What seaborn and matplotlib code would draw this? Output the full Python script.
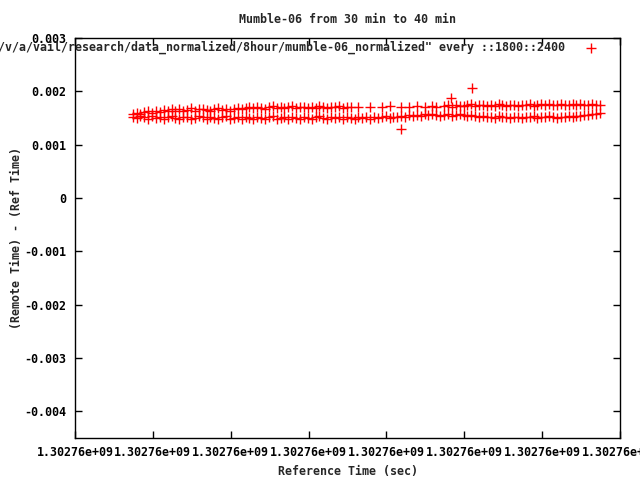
import numpy as np
import pandas as pd
import matplotlib
matplotlib.use("Agg")
import matplotlib.pyplot as plt
import seaborn as sns

nan = np.nan

# reference time of first tick (unix seconds) and sample timing
t_base = 1302760000
t_first = 74        # first sample, seconds after t_base
t_step = 5

# offset (remote - ref) in units of 10 microseconds, lower band
lower_10us = [
    152, 150, 154, 151, 149, 153, 150, 152, 148, 151,
    153, 150, 149, 152, 151, 148, 150, 153, 151, 149,
    152, 150, 148, 151, 153, 149, 150, 152, 148, 151,
    150, 149, 152, 150, 148, 151, 153, 149, 150, 152,
    149, 151, 150, 148, 152, 150, 149, 151, 153, 150,
    148, 151, 150, 152, 149, 151, 150, 148, 152, 150,
    151, 149, 152, 150, 151, 153, 150, 152, 151, 154,
    152, 155, 153, 156, 154, 157, 155, 158, 156, 154,
    155, 157, 154, 156, 158, 155, 153, 156, 154, 152,
    153, 151, 152, 150, 153, 151, 152, 150, 152, 151,
    150, 152, 151, 153, 150, 152, 151, 153, 152, 150,
    152, 151, 153, 152, 154, 153, 155, 156, 158, 157,
    159,
]

# upper band (sparse around the middle)
upper_10us = [
    158, 160, 157, 161, 163, 159, 164, 162, 165, 163,
    166, 164, 167, 163, 165, 168, 164, 166, 167, 165,
    163, 166, 168, 165, 167, 164, 166, 169, 167, 168,
    170, 168, 171, 169, 167, 170, 172, 169, 171, 168,
    170, 172, 169, 171, 170, 168, 171, 169, 172, 170,
    169, 171, 170, 172, 168, 170, 171, nan, 170, nan,
    nan, 171, nan, nan, 170, nan, 172, nan, nan, 171,
    nan, 170, nan, 172, nan, 171, nan, 173, 170, nan,
    172, 174, 171, 175, 173, 172, 174, 176, 173, 175,
    174, 172, 175, 173, 176, 174, 172, 175, 174, 173,
    175, 174, 176, 173, 175, 177, 174, 176, 175, 174,
    176, 175, 174, 177, 175, 176, 174, 175, 176, 174,
    175,
]

# isolated points
outlier_t = [419, 483, 510]
outlier_10us = [129, 188, 207]

xtick_labels = ["1.30276e+09"] * 8
ytick_values = [0.003, 0.002, 0.001, 0, -0.001, -0.002, -0.003, -0.004]
ytick_labels = ["0.003", "0.002", "0.001", "0", "-0.001", "-0.002", "-0.003", "-0.004"]

legend_label = '"/v/a/vail/research/data_normalized/8hour/mumble-06_normalized" every ::1800::2400'

# --- assemble frame ---
n = len(lower_10us)
t = t_base + t_first + t_step * np.arange(n)
df = pd.concat([
    pd.DataFrame({"time": t, "offset": np.array(lower_10us) * 1e-5}),
    pd.DataFrame({"time": t, "offset": np.array(upper_10us, dtype=float) * 1e-5}),
    pd.DataFrame({"time": t_base + np.array(outlier_t), "offset": np.array(outlier_10us) * 1e-5}),
]).dropna()

sns.set_style("ticks")
plt.rcParams["font.family"] = ["DejaVu Sans Mono"]
plt.rcParams["font.weight"] = "bold"

fig = plt.figure(figsize=(6.4, 4.8), dpi=100)
ax = fig.add_axes([75 / 640, 42 / 480, 545 / 640, 400 / 480])

sns.scatterplot(data=df, x="time", y="offset", marker="+", color="red",
                s=50, linewidth=1, label=legend_label, ax=ax)

ax.set_xlim(t_base, t_base + 700)
ax.set_ylim(-0.0045, 0.003)
ax.set_xticks(t_base + 100 * np.arange(8))
ax.set_xticklabels(xtick_labels)
ax.set_yticks(ytick_values)
ax.set_yticklabels(ytick_labels)

fs = 8.4
ax.tick_params(direction="in", top=True, right=True, length=5, width=1,
               labelsize=fs, pad=6, colors="black")
for sp in ax.spines.values():
    sp.set_linewidth(1)
    sp.set_color("black")

ax.set_title("Mumble-06 from 30 min to 40 min", fontsize=fs, fontweight="bold", pad=11)
ax.set_xlabel("Reference Time (sec)", fontsize=fs, fontweight="bold", labelpad=4)
ax.set_ylabel("(Remote Time) - (Ref Time)", fontsize=fs, fontweight="bold", labelpad=1)

leg = ax.legend(loc="upper right", bbox_to_anchor=(0.976, 1.005), frameon=False,
                markerfirst=False, fontsize=fs, handletextpad=1.2, borderaxespad=0)

fig.savefig("out.png", dpi=100)
